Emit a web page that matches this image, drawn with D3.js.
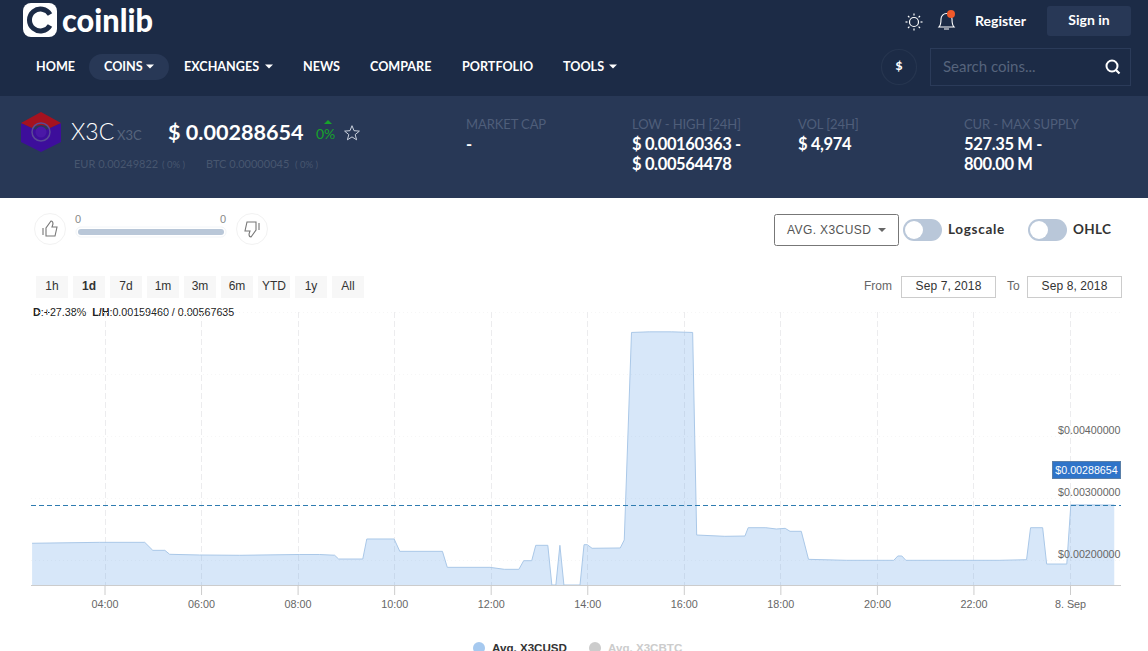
<!DOCTYPE html>
<html>
<head>
<meta charset="utf-8">
<title>X3C - coinlib</title>
<script src="https://cdn.jsdelivr.net/npm/d3@7/dist/d3.min.js"></script>
<style>
html,body{margin:0;padding:0;background:#fff;overflow:hidden}
svg{display:block}
text{font-family:"Lato",sans-serif}
.hc text,.hc{font-family:"Liberation Sans",Arial,sans-serif}
</style>
</head>
<body>
<svg id="page" width="1148" height="651"></svg>
<script>
// price series (Avg. X3CUSD)
var times = ["09-07 02:30","09-07 03:54","09-07 04:50","09-07 05:00","09-07 05:15","09-07 05:21","09-07 05:58","09-07 06:48","09-07 08:02","09-07 08:27","09-07 08:46","09-07 08:51","09-07 09:21","09-07 09:26","09-07 10:00","09-07 10:07","09-07 11:00","09-07 11:06","09-07 11:59","09-07 12:17","09-07 12:35","09-07 12:41","09-07 12:51","09-07 12:56","09-07 13:11","09-07 13:16","09-07 13:21","09-07 13:26","09-07 13:31","09-07 13:51","09-07 13:56","09-07 14:00","09-07 14:06","09-07 14:41","09-07 14:46","09-07 14:55","09-07 15:17","09-07 15:45","09-07 16:11","09-07 16:16","09-07 16:51","09-07 17:16","09-07 17:20","09-07 17:42","09-07 17:55","09-07 18:06","09-07 18:12","09-07 18:26","09-07 18:35","09-07 19:22","09-07 20:21","09-07 20:26","09-07 20:31","09-07 20:36","09-07 22:32","09-07 23:06","09-07 23:11","09-07 23:26","09-07 23:31","09-07 23:56","09-08 00:01","09-08 00:55"];
var prices = [0.00227,0.002285,0.002285,0.002156,0.002156,0.002092,0.002081,0.002076,0.002089,0.002089,0.002077,0.002016,0.002016,0.002339,0.002339,0.00214,0.00214,0.001882,0.001882,0.00185,0.00185,0.001989,0.001989,0.002237,0.002237,0.001597,0.001597,0.002237,0.001597,0.001597,0.002247,0.002247,0.002189,0.002194,0.002323,0.00567,0.00568,0.00568,0.00567,0.002403,0.002382,0.002387,0.002521,0.002521,0.0025,0.002511,0.002463,0.002463,0.002011,0.001995,0.001995,0.002065,0.002065,0.001995,0.001995,0.002005,0.002521,0.002521,0.001935,0.001935,0.00289,0.00288654];

var xTickTimes = ["09-07 04:00","09-07 06:00","09-07 08:00","09-07 10:00","09-07 12:00","09-07 14:00","09-07 16:00","09-07 18:00","09-07 20:00","09-07 22:00","09-08 00:00"];
var xTickLabels = ["04:00","06:00","08:00","10:00","12:00","14:00","16:00","18:00","20:00","22:00","8. Sep"];
var yTicks = [0.002,0.003,0.004,0.005,0.006];
var yLabelled = [0.002,0.003,0.004];
var lastPrice = 0.00288654;
var lowValue = 0.001597;

var navItems = ["HOME","COINS","EXCHANGES","NEWS","COMPARE","PORTFOLIO","TOOLS"];
var navX = [36,104,184,303,370,462,563];
var navCaret = [0,146,265,0,0,0,609];
var ranges = ["1h","1d","7d","1m","3m","6m","YTD","1y","All"];
var statNames = ["MARKET CAP","LOW - HIGH [24H]","VOL [24H]","CUR - MAX SUPPLY"];
var statLine1 = ["-","$ 0.00160363 -","$ 4,974","527.35 M -"];
var statLine2 = ["","$ 0.00564478","","800.00 M"];
var statX = [466,632,798,964];

var svg = d3.select("#page");
var parse = d3.utcParse("%m-%d %H:%M");

function txt(p,x,y,s,size,col,weight,anchor){
    return p.append("text").attr("x",x).attr("y",y).text(s)
        .attr("font-size",size).attr("fill",col)
        .attr("font-weight",weight||400).attr("text-anchor",anchor||"start");
}
function caret(p,x,y,col){
    p.append("path").attr("d","M"+x+" "+y+"h8l-4 4z").attr("fill",col);
}

/* ---- header ---- */
var head = svg.append("g");
head.append("rect").attr("width",1148).attr("height",96).attr("fill","#1c2b46");
head.append("rect").attr("y",96).attr("width",1148).attr("height",102).attr("fill","#283856");

head.append("rect").attr("x",23).attr("y",3).attr("width",34).attr("height",34).attr("rx",8).attr("fill","#fff");
head.append("path").attr("d","M50 14.5A11 11 0 1 0 50 25.5").attr("fill","none").attr("stroke","#1c2b46").attr("stroke-width",5);
head.append("circle").attr("cx",40).attr("cy",20).attr("r",3.5).attr("fill","#fff");
txt(head,62,32,"coinlib",33,"#fff",900).attr("textLength",91).attr("lengthAdjust","spacingAndGlyphs");

head.append("rect").attr("x",89).attr("y",54).attr("width",80).attr("height",26).attr("rx",13).attr("fill","#283856");
navItems.forEach(function(n,i){
    txt(head,navX[i],71,n,12.6,"#fff",700);
    if(navCaret[i]) caret(head,navCaret[i],64.5,"#fff");
});

// sun
var sun = head.append("g").attr("transform","translate(914,22)");
sun.append("circle").attr("r",4.5).attr("fill","none").attr("stroke","#fff").attr("stroke-width",1.2);
d3.range(8).forEach(function(i){
    sun.append("line").attr("x1",0).attr("y1",-6.5).attr("x2",0).attr("y2",-8.5)
        .attr("stroke","#fff").attr("stroke-width",1.2).attr("transform","rotate("+i*45+")");
});
// bell
head.append("path").attr("d","M939 27c2-2 2-4 2-8a5.500 5.500 0 0 1 11 0c0 4 0 6 2 8zM944 29h5")
    .attr("fill","none").attr("stroke","#fff").attr("stroke-width",1.1);
head.append("circle").attr("cx",951).attr("cy",14).attr("r",4).attr("fill","#f0592a");
txt(head,975,26,"Register",14,"#fff",700);
head.append("rect").attr("x",1047).attr("y",6).attr("width",84).attr("height",30).attr("rx",3).attr("fill","#283856");
txt(head,1089,25,"Sign in",14,"#fff",700,"middle");
head.append("circle").attr("cx",899).attr("cy",67).attr("r",17.500).attr("fill","none").attr("stroke","#26354f").attr("stroke-width",1.2);
txt(head,899,70,"$",12,"#fff",900,"middle");
head.append("rect").attr("x",930.5).attr("y",48.5).attr("width",200).attr("height",37).attr("fill","none").attr("stroke","#2b3b59");
txt(head,943,72,"Search coins...",15,"#56647c");
head.append("circle").attr("cx",1112).attr("cy",66).attr("r",5.500).attr("fill","none").attr("stroke","#fff").attr("stroke-width",2);
head.append("line").attr("x1",1116).attr("y1",70).attr("x2",1119.5).attr("y2",73.5).attr("stroke","#fff").attr("stroke-width",2.2);

// coin badge
head.append("path").attr("d","M21 123L41 132L61 123V142L41 152L21 142Z").attr("fill","#3d0e9b");
head.append("path").attr("d","M21 123L41 112L61 123L50 128Q41 122 32 128Z").attr("fill","#a5121f");
head.append("circle").attr("cx",41).attr("cy",132).attr("r",9).attr("fill","none").attr("stroke","#5a4a96").attr("stroke-width",1.5);
head.append("circle").attr("cx",41).attr("cy",132).attr("r",5.500).attr("fill","#4a18a6");

txt(head,71,140,"X3C",23,"#fff",300);
txt(head,117,140,"X3C",13,"#56647c",400);
txt(head,168,140,"$ 0.00288654",21.6,"#fff",700);
txt(head,316,139,"0%",14,"#17a32b",400);
head.append("path").attr("d","M324 124l4-4 4 4z").attr("fill","#17a32b");
head.append("path").attr("d",d3.range(10).map(function(i){
        var r = i%2 ? 3.4 : 7.8, a = i*Math.PI/5;
        return (i?"L":"M")+(352+r*Math.sin(a)).toFixed(1)+" "+(133.500-r*Math.cos(a)).toFixed(1);
    }).join("")+"Z").attr("fill","none").attr("stroke","#c9d0dc").attr("stroke-width",1);

txt(head,74,168,"EUR 0.00249822",11,"#47566f");
txt(head,162,168,"( 0% )",9.5,"#47566f");
txt(head,206,168,"BTC 0.00000045",11,"#47566f");
txt(head,295,168,"( 0% )",9.5,"#47566f");

statNames.forEach(function(n,i){
    txt(head,statX[i],129,n,13,"#4f5e7a",400).attr("letter-spacing",-0.1);
    txt(head,statX[i],150,statLine1[i],16.5,"#fff",700).attr("letter-spacing",-0.35);
    if(statLine2[i]) txt(head,statX[i],170,statLine2[i],16.5,"#fff",700).attr("letter-spacing",-0.35);
});

/* ---- vote + controls ---- */
var ctl = svg.append("g").attr("class","hc");
[50,252].forEach(function(cx){
    ctl.append("circle").attr("cx",cx).attr("cy",229).attr("r",15.500).attr("fill","#fff").attr("stroke","#f2f2f2");
});
ctl.append("path").attr("d","M43 228v7M46 236v-8l5-7q2 0 2 3l-1 3h5l-2 9z").attr("fill","none").attr("stroke","#777").attr("stroke-width",1.1);
ctl.append("path").attr("d","M259 223v7M256 222v8l-5 7q-2 0-2-3l1-3h-5l2-9z").attr("fill","none").attr("stroke","#777").attr("stroke-width",1.1);
ctl.append("rect").attr("x",76).attr("y",227).attr("width",150).attr("height",10).attr("rx",5).attr("fill","#fff").attr("stroke","#f2f5f8");
ctl.append("rect").attr("x",78).attr("y",229).attr("width",146).attr("height",6).attr("rx",3).attr("fill","#b9c7d8");
txt(ctl,78,223,"0",11,"#888",400,"middle");
txt(ctl,223,223,"0",11,"#888",400,"middle");

ctl.append("rect").attr("x",774.5).attr("y",214.5).attr("width",124).attr("height",31).attr("rx",2).attr("fill","#fff").attr("stroke","#777");
txt(ctl,787,234,"AVG. X3CUSD",12,"#555").attr("letter-spacing",0.4);
caret(ctl,878,228,"#666");

[[903,"Logscale",948,0.7],[1028,"OHLC",1073,0.3]].forEach(function(t){
    ctl.append("rect").attr("x",t[0]).attr("y",219).attr("width",39).attr("height",22).attr("rx",11).attr("fill","#b9c7d9");
    ctl.append("circle").attr("cx",t[0]+11).attr("cy",230).attr("r",9).attr("fill","#fff");
    txt(ctl,t[2],234,t[1],13.5,"#333",700).style("font-family","Lato").attr("letter-spacing",t[3]);
});

ranges.forEach(function(r,i){
    var bx = 36+i*37;
    ctl.append("rect").attr("x",bx).attr("y",276).attr("width",32).attr("height",22).attr("fill","#f7f7f7");
    txt(ctl,bx+16,290,r,12,"#333",r=="1d"?700:400,"middle");
});

txt(ctl,864,290,"From",12,"#666");
txt(ctl,1007,290,"To",12,"#666");
[[901,"Sep 7, 2018"],[1027,"Sep 8, 2018"]].forEach(function(b){
    ctl.append("rect").attr("x",b[0]+.5).attr("y",276.5).attr("width",94).attr("height",21).attr("fill","#fff").attr("stroke","#ccc");
    txt(ctl,b[0]+47.5,290,b[1],12,"#333",400,"middle").attr("letter-spacing",0.1);
});

var info = txt(ctl,33,316,"",10.7,"#222");
info.append("tspan").attr("font-weight",700).text("D");
info.append("tspan").text(":+27.38%");
info.append("tspan").attr("font-weight",700).attr("dx",6).text("L/H");
info.append("tspan").text(":0.00159460 / 0.00567635");

/* ---- chart ---- */
var data = times.map(function(t,i){ return {t:parse(t),v:prices[i]}; });
var xTicks = xTickTimes.map(parse);

var x = d3.scaleUtc().domain([xTicks[0],xTicks[10]]).range([104.5,1070]);
var y = d3.scaleLinear().domain([lowValue,0.006]).range([585,312]);

var chart = svg.append("g").attr("class","hc");

chart.selectAll(".hgrid").data(yTicks).enter().append("line")
    .attr("x1",31).attr("x2",1121)
    .attr("y1",function(d){return Math.round(y(d))+.5;}).attr("y2",function(d){return Math.round(y(d))+.5;})
    .attr("stroke","#f6f6f6").attr("stroke-dasharray","1,3");

chart.selectAll(".vgrid").data(xTicks).enter().append("line")
    .attr("x1",function(d){return Math.round(x(d))+.5;}).attr("x2",function(d){return Math.round(x(d))+.5;})
    .attr("y1",312).attr("y2",585)
    .attr("stroke","#ececee").attr("stroke-dasharray","6,3");

var area = d3.area().x(function(d){return x(d.t);}).y0(y(lowValue)).y1(function(d){return y(d.v);});
var line = d3.line().x(function(d){return x(d.t);}).y(function(d){return y(d.v);});

chart.append("path").datum(data).attr("d",area).attr("fill","#6aa8ea").attr("fill-opacity",.27);
chart.append("path").datum(data).attr("d",line).attr("fill","none").attr("stroke","#aac8e8").attr("stroke-width",1);

chart.append("line").attr("x1",31).attr("x2",1121).attr("y1",Math.round(y(lastPrice))+.5).attr("y2",Math.round(y(lastPrice))+.5)
    .attr("stroke","#2f7cb0").attr("stroke-dasharray","5,3");

var xAxis = d3.axisBottom(x).tickValues(xTicks).tickSize(10).tickPadding(5)
    .tickFormat(function(d,i){return xTickLabels[i];});
var gx = chart.append("g").attr("transform","translate(0,585)").call(xAxis);
gx.select(".domain").attr("d","M31 .5H1121").attr("stroke","#ccc");
gx.selectAll(".tick line").attr("stroke","#ccc");
gx.selectAll(".tick text").attr("font-size",10.8).attr("fill","#666").attr("font-family","Liberation Sans");

chart.selectAll(".ylab").data(yLabelled).enter().append("text")
    .attr("x",1120.5).attr("y",function(d){return y(d)-2;})
    .attr("text-anchor","end").attr("font-size",10.7).attr("fill","#666")
    .text(function(d){return "$"+d3.format(".8f")(d);});

chart.append("rect").attr("x",1052.5).attr("y",461.5).attr("width",68).attr("height",17).attr("fill","#2f74c9").attr("stroke","#5a7fa8");
txt(chart,1086.5,474,"$"+d3.format(".8f")(lastPrice),10.7,"#fff",400,"middle");

chart.append("circle").attr("cx",479).attr("cy",648).attr("r",6).attr("fill","#a6c9ef");
txt(chart,492,652,"Avg. X3CUSD",11.6,"#333",700);
chart.append("circle").attr("cx",595).attr("cy",648).attr("r",6).attr("fill","#ccc");
txt(chart,608,652,"Avg. X3CBTC",11.6,"#ccc",700);
</script>
</body>
</html>
